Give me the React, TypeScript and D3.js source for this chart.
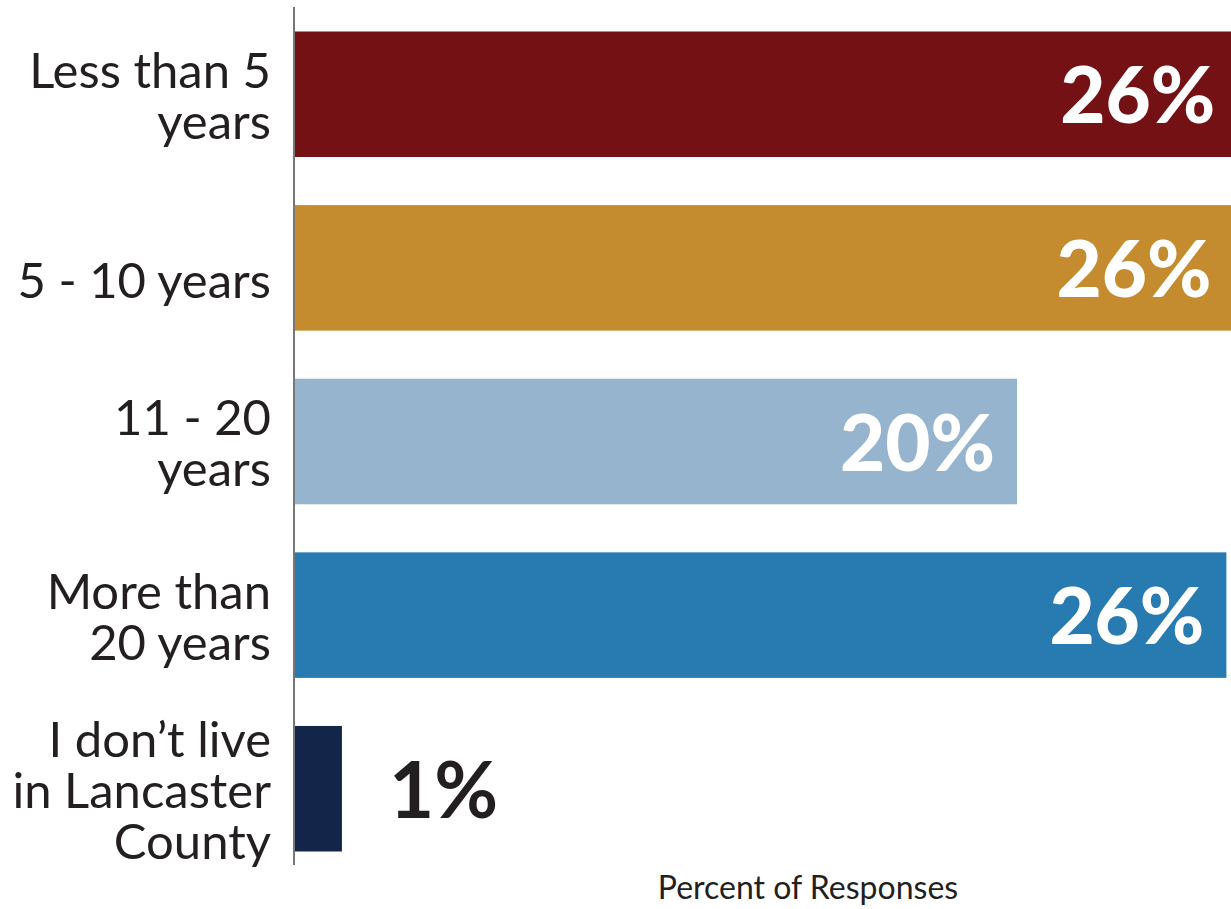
import React from "react";
import * as d3 from "d3";

const categories: string[][] = [
  ["Less than 5", "years"],
  ["5 - 10 years"],
  ["11 - 20", "years"],
  ["More than", "20 years"],
  ["I don\u2019t live", "in Lancaster", "County"],
];
const values: number[] = [26.1, 26.0, 20.0, 25.8, 1.3];
const valueLabels: string[] = ["26%", "26%", "20%", "26%", "1%"];
const colors: string[] = ["#731114", "#c48c2e", "#96b4ce", "#277bb0", "#13264a"];
const axisTitle = "Percent of Responses";

const W = 1231;
const H = 909;

export default function App() {
  const x = d3.scaleLinear().domain([0, 26]).range([295, 295 + 26 * 36.1]);
  const y = d3
    .scaleBand<number>()
    .domain(values.map((_, i) => i))
    .range([31.5, 851.5])
    .paddingInner(0.277)
    .paddingOuter(0);
  const bw = y.bandwidth();
  const labelFont = "Lato, 'Open Sans', sans-serif";
  const lh = 51;

  return (
    <svg
      width={W}
      height={H}
      style={{ position: "absolute", left: 0, top: 0, background: "#fff" }}
    >
      {values.map((v, i) => {
        const y0 = y(i)!;
        const cy = y0 + bw / 2;
        const inside = x(v) - x(0) > 200;
        const n = categories[i].length;
        const firstBase = n === 1 ? cy + 30 : cy + 19 - ((n - 1) / 2) * lh;
        return (
          <g key={i}>
            <rect x={x(0)} y={y0} width={x(v) - x(0)} height={bw} fill={colors[i]} />
            <text
              x={inside ? x(v) - 22 : x(v) + 47}
              y={cy + 29}
              textAnchor={inside ? "end" : "start"}
              fill={inside ? "#ffffff" : "#231f20"}
              fontFamily={labelFont}
              fontWeight={inside ? 900 : 700}
              fontSize={78}
            >
              {valueLabels[i]}
            </text>
            <text
              x={271}
              y={firstBase}
              textAnchor="end"
              fill="#231f20"
              fontFamily={labelFont}
              fontSize={49}
            >
              {categories[i].map((line, j) => (
                <tspan key={j} x={271} dy={j === 0 ? 0 : lh}>
                  {line}
                </tspan>
              ))}
            </text>
          </g>
        );
      })}
      <line x1={294} x2={294} y1={7} y2={865} stroke="#555" strokeWidth={1.6} />
      <text
        x={808}
        y={899}
        textAnchor="middle"
        fill="#231f20"
        fontFamily={labelFont}
        fontSize={32}
      >
        {axisTitle}
      </text>
    </svg>
  );
}
